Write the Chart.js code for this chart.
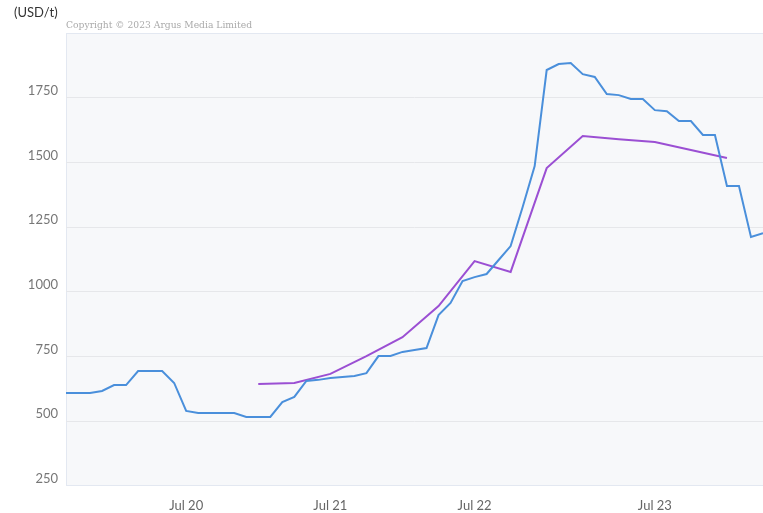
<!DOCTYPE html>
<html>
<head>
<meta charset="utf-8">
<script src="https://cdn.jsdelivr.net/npm/chart.js@4"></script>
<style>
  html, body { margin: 0; padding: 0; background: #fff; }
  #wrap { width: 763px; height: 513px; position: relative; }
</style>
</head>
<body>
<div id="wrap"><canvas id="chart"></canvas></div>
<script>
/* Price chart, USD/t — monthly series plus quarterly series */

// x positions are point indices; tick labels sit on a few of them
const tickIndex  = [10, 22, 34, 49];
const tickLabels = ['Jul 20', 'Jul 21', 'Jul 22', 'Jul 23'];

const yTicks = [250, 500, 750, 1000, 1250, 1500, 1750, 2000];

// monthly series (blue), one value per index 0..58
const monthly = [
  609, 609, 609, 617, 640, 640, 694, 694, 694, 648,
  540, 532, 532, 532, 532, 517, 517, 517, 574, 594,
  656, 660, 667, 671, 675, 686, 752, 752, 768, 775,
  783, 910, 957, 1042, 1057, 1069, 1123, 1177, 1328, 1486,
  1857, 1880, 1884, 1841, 1830, 1764, 1760, 1745, 1745, 1702,
  1698, 1660, 1660, 1606, 1606, 1409, 1409, 1212, 1227
];

// quarterly series (purple)
const quarterlyAt = [16, 19, 22, 25, 28, 31, 34, 37, 40, 43, 46, 49, 52, 55];
const quarterly   = [644, 648, 683, 752, 825, 945, 1119, 1077, 1478, 1602, 1590, 1579, 1548, 1517];

const FONT = 'Lato, "Open Sans", sans-serif';

const plotFrame = {
  id: 'plotFrame',
  beforeDraw(chart) {
    const { ctx, chartArea: a } = chart;
    ctx.save();
    ctx.fillStyle = '#f7f8fa';
    ctx.fillRect(a.left, a.top, a.right - a.left, a.bottom - a.top);
    ctx.strokeStyle = '#e3e8f1';
    ctx.lineWidth = 1;
    ctx.strokeRect(a.left + 0.5, a.top + 0.5, a.right - a.left, a.bottom - a.top - 1);
    ctx.restore();
  },
  afterDraw(chart) {
    const { ctx, chartArea: a } = chart;
    ctx.save();
    ctx.textBaseline = 'alphabetic';
    ctx.fillStyle = '#333';
    ctx.font = '13px ' + FONT;
    ctx.fillText('(USD/t)', 14, 17);
    ctx.fillStyle = '#aaa';
    ctx.font = '9.2px "DejaVu Serif", serif';
    ctx.fillText('Copyright \u00a9 2023 Argus Media Limited', a.left, 28);
    ctx.restore();
  }
};

new Chart(document.getElementById('chart'), {
  type: 'line',
  data: {
    datasets: [
      {
        label: 'Monthly',
        data: monthly.map((v, i) => ({ x: i, y: v })),
        borderColor: '#4a8fdb',
        borderWidth: 2,
        pointRadius: 0,
        tension: 0,
      },
      {
        label: 'Quarterly',
        data: quarterlyAt.map((i, k) => ({ x: i, y: quarterly[k] })),
        borderColor: '#9b4fd3',
        borderWidth: 2,
        pointRadius: 0,
        tension: 0,
      },
    ],
  },
  options: {
    responsive: true,
    maintainAspectRatio: false,
    animation: false,
    layout: { padding: { top: 33, right: 0, left: 0, bottom: 0 } },
    plugins: {
      legend: { display: false },
      tooltip: { enabled: false },
    },
    scales: {
      x: {
        type: 'linear',
        min: 0,
        max: 58,
        afterBuildTicks: axis => { axis.ticks = tickIndex.map(v => ({ value: v })); },
        afterFit: axis => { axis.height = 27; },
        grid: { display: false, drawTicks: false },
        border: { display: false },
        ticks: {
          color: '#666',
          font: { size: 13, family: FONT },
          padding: 12,
          maxRotation: 0,
          autoSkip: false,
          callback: v => tickLabels[tickIndex.indexOf(v)] || '',
        },
      },
      y: {
        min: 250,
        max: 2000,
        afterBuildTicks: axis => { axis.ticks = yTicks.map(v => ({ value: v })); },
        afterFit: axis => { axis.width = 66; },
        grid: {
          drawTicks: false,
          color: c => (c.tick.value === 250 || c.tick.value === 2000) ? 'rgba(0,0,0,0)' : '#e6e7ea',
        },
        border: { display: false },
        ticks: {
          color: '#777',
          font: { size: 13, family: FONT },
          padding: 8,
          labelOffset: -7,
          callback: v => v === 2000 ? '' : String(v),
        },
      },
    },
  },
  plugins: [plotFrame],
});
</script>
</body>
</html>
